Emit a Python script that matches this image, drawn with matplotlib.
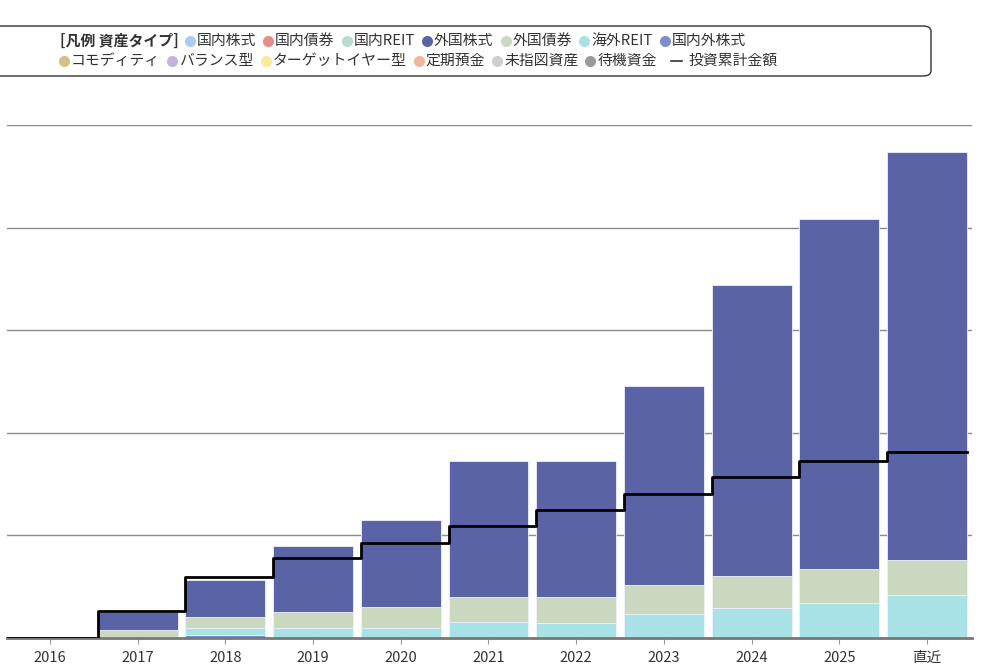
import matplotlib
matplotlib.use("Agg")
import matplotlib.pyplot as plt
from matplotlib.lines import Line2D
from matplotlib.patches import FancyBboxPatch
import numpy as np

plt.rcParams['font.family'] = ['Noto Sans CJK JP', 'DejaVu Sans']

# データ
years = ['2016', '2017', '2018', '2019', '2020', '2021', '2022', '2023', '2024', '2025', '直近']
kaigai_reit = [0, 1.0, 6.8, 9.7, 9.7, 15.6, 15.1, 23.4, 29.2, 34.1, 41.9]
gaikoku_saiken = [0, 6.8, 10.7, 15.6, 20.5, 24.4, 25.3, 28.3, 31.7, 33.1, 34.1]
gaikoku_kabu = [0, 17.5, 36.1, 64.3, 84.8, 132.6, 132.6, 194.0, 283.6, 341.1, 397.7]
naigai_kabu = [0, 0, 2.9, 0, 0, 0, 0, 0, 0, 0, 0]
toushi_ruikei = [0, 26.3, 59.5, 78.0, 92.6, 109.0, 124.8, 140.4, 157.0, 172.5, 181.3]

legend_items = [
    ('国内株式', '#a9cdf0'), ('国内債券', '#e98b86'), ('国内REIT', '#b9dccf'),
    ('外国株式', '#5b63a7'), ('外国債券', '#cbd8c0'), ('海外REIT', '#a9e2e6'),
    ('国内外株式', '#7b8fcd'),
    ('コモディティ', '#d3c088'), ('バランス型', '#c4b2e0'), ('ターゲットイヤー型', '#f5ec95'),
    ('定期預金', '#f1b59b'), ('未指図資産', '#cfcfcf'), ('待機資金', '#9a9a9a'),
]

W, H = 1008, 667
fig = plt.figure(figsize=(W / 100, H / 100), dpi=100)

def px(x, y):
    return x / W, 1 - y / H

ax_left, ax_right, ax_top, ax_bottom = 7, 972, 125, 638
ax = fig.add_axes([ax_left / W, 1 - ax_bottom / H, (ax_right - ax_left) / W, (ax_bottom - ax_top) / H])

x = np.arange(len(years))
w = 0.91
edge = '#eef0f8'
bottom = np.zeros(len(years))
for vals, col in [(naigai_kabu, '#7b8fcd'), (kaigai_reit, '#a9e2e6'),
                  (gaikoku_saiken, '#cbd8c0'), (gaikoku_kabu, '#5b63a7')]:
    ax.bar(x, vals, width=w, bottom=bottom, color=col, edgecolor=edge, linewidth=0.6, zorder=2)
    bottom += np.array(vals)

# 投資累計金額 (階段線)
xs = [-0.49] + [i - w / 2 for i in range(1, len(years))] + [len(years) - 1 + w / 2]
ys = [toushi_ruikei[0]] + toushi_ruikei[1:] + [toushi_ruikei[-1]]
ax.plot(xs, ys, drawstyle='steps-post', color='black', linewidth=2, zorder=3)

ax.set_xlim(-0.49, 10.513)
ax.set_ylim(0, 500)
ax.set_yticks([100, 200, 300, 400, 500])
ax.yaxis.grid(True, color='#8a8a8a', linewidth=1.0, zorder=0)
ax.set_axisbelow(True)
ax.tick_params(axis='y', length=0, labelleft=False)
ax.set_xticks(x)
ax.set_xticklabels(years, fontsize=10.5, color='#333333')
ax.tick_params(axis='x', length=4, color='#999999', pad=5)
for s in ['top', 'right', 'left']:
    ax.spines[s].set_visible(False)
ax.spines['bottom'].set_color('#777777')
ax.spines['bottom'].set_linewidth(2)

# 凡例
box = FancyBboxPatch(px(-10, 76), (941) / W, 50 / H, boxstyle='round,pad=0,rounding_size=0.008',
                     transform=fig.transFigure, facecolor='white', edgecolor='#333333', linewidth=1.0)
fig.add_artist(box)

renderer = fig.canvas.get_renderer()
fs = 10.7

def put_text(xp, yp, s, **kw):
    t = fig.text(*px(xp, yp), s, fontsize=fs, color='#333333', va='center', ha='left', **kw)
    return t.get_window_extent(renderer).width

def put_dot(xp, yp, col):
    fig.add_artist(Line2D([px(xp, yp)[0]], [px(xp, yp)[1]], marker='o', markersize=8,
                          markerfacecolor=col, markeredgecolor='none', transform=fig.transFigure))

row1, row2 = 41, 61
cx = 60
cx += put_text(cx, row1, '[凡例 資産タイプ]', fontweight='bold') + 11
for name, col in legend_items[:7]:
    put_dot(cx, row1, col)
    cx += 7
    cx += put_text(cx, row1, name) + 12
cx = 64
for name, col in legend_items[7:]:
    put_dot(cx, row2, col)
    cx += 7
    cx += put_text(cx, row2, name) + 12
cx += 2
fig.add_artist(Line2D([px(cx, row2)[0], px(cx + 11, row2)[0]], [px(cx, row2)[1]] * 2,
                      color='#333333', linewidth=1.2, transform=fig.transFigure))
put_text(cx + 18, row2, '投資累計金額')

fig.savefig('out.png', dpi=100)
